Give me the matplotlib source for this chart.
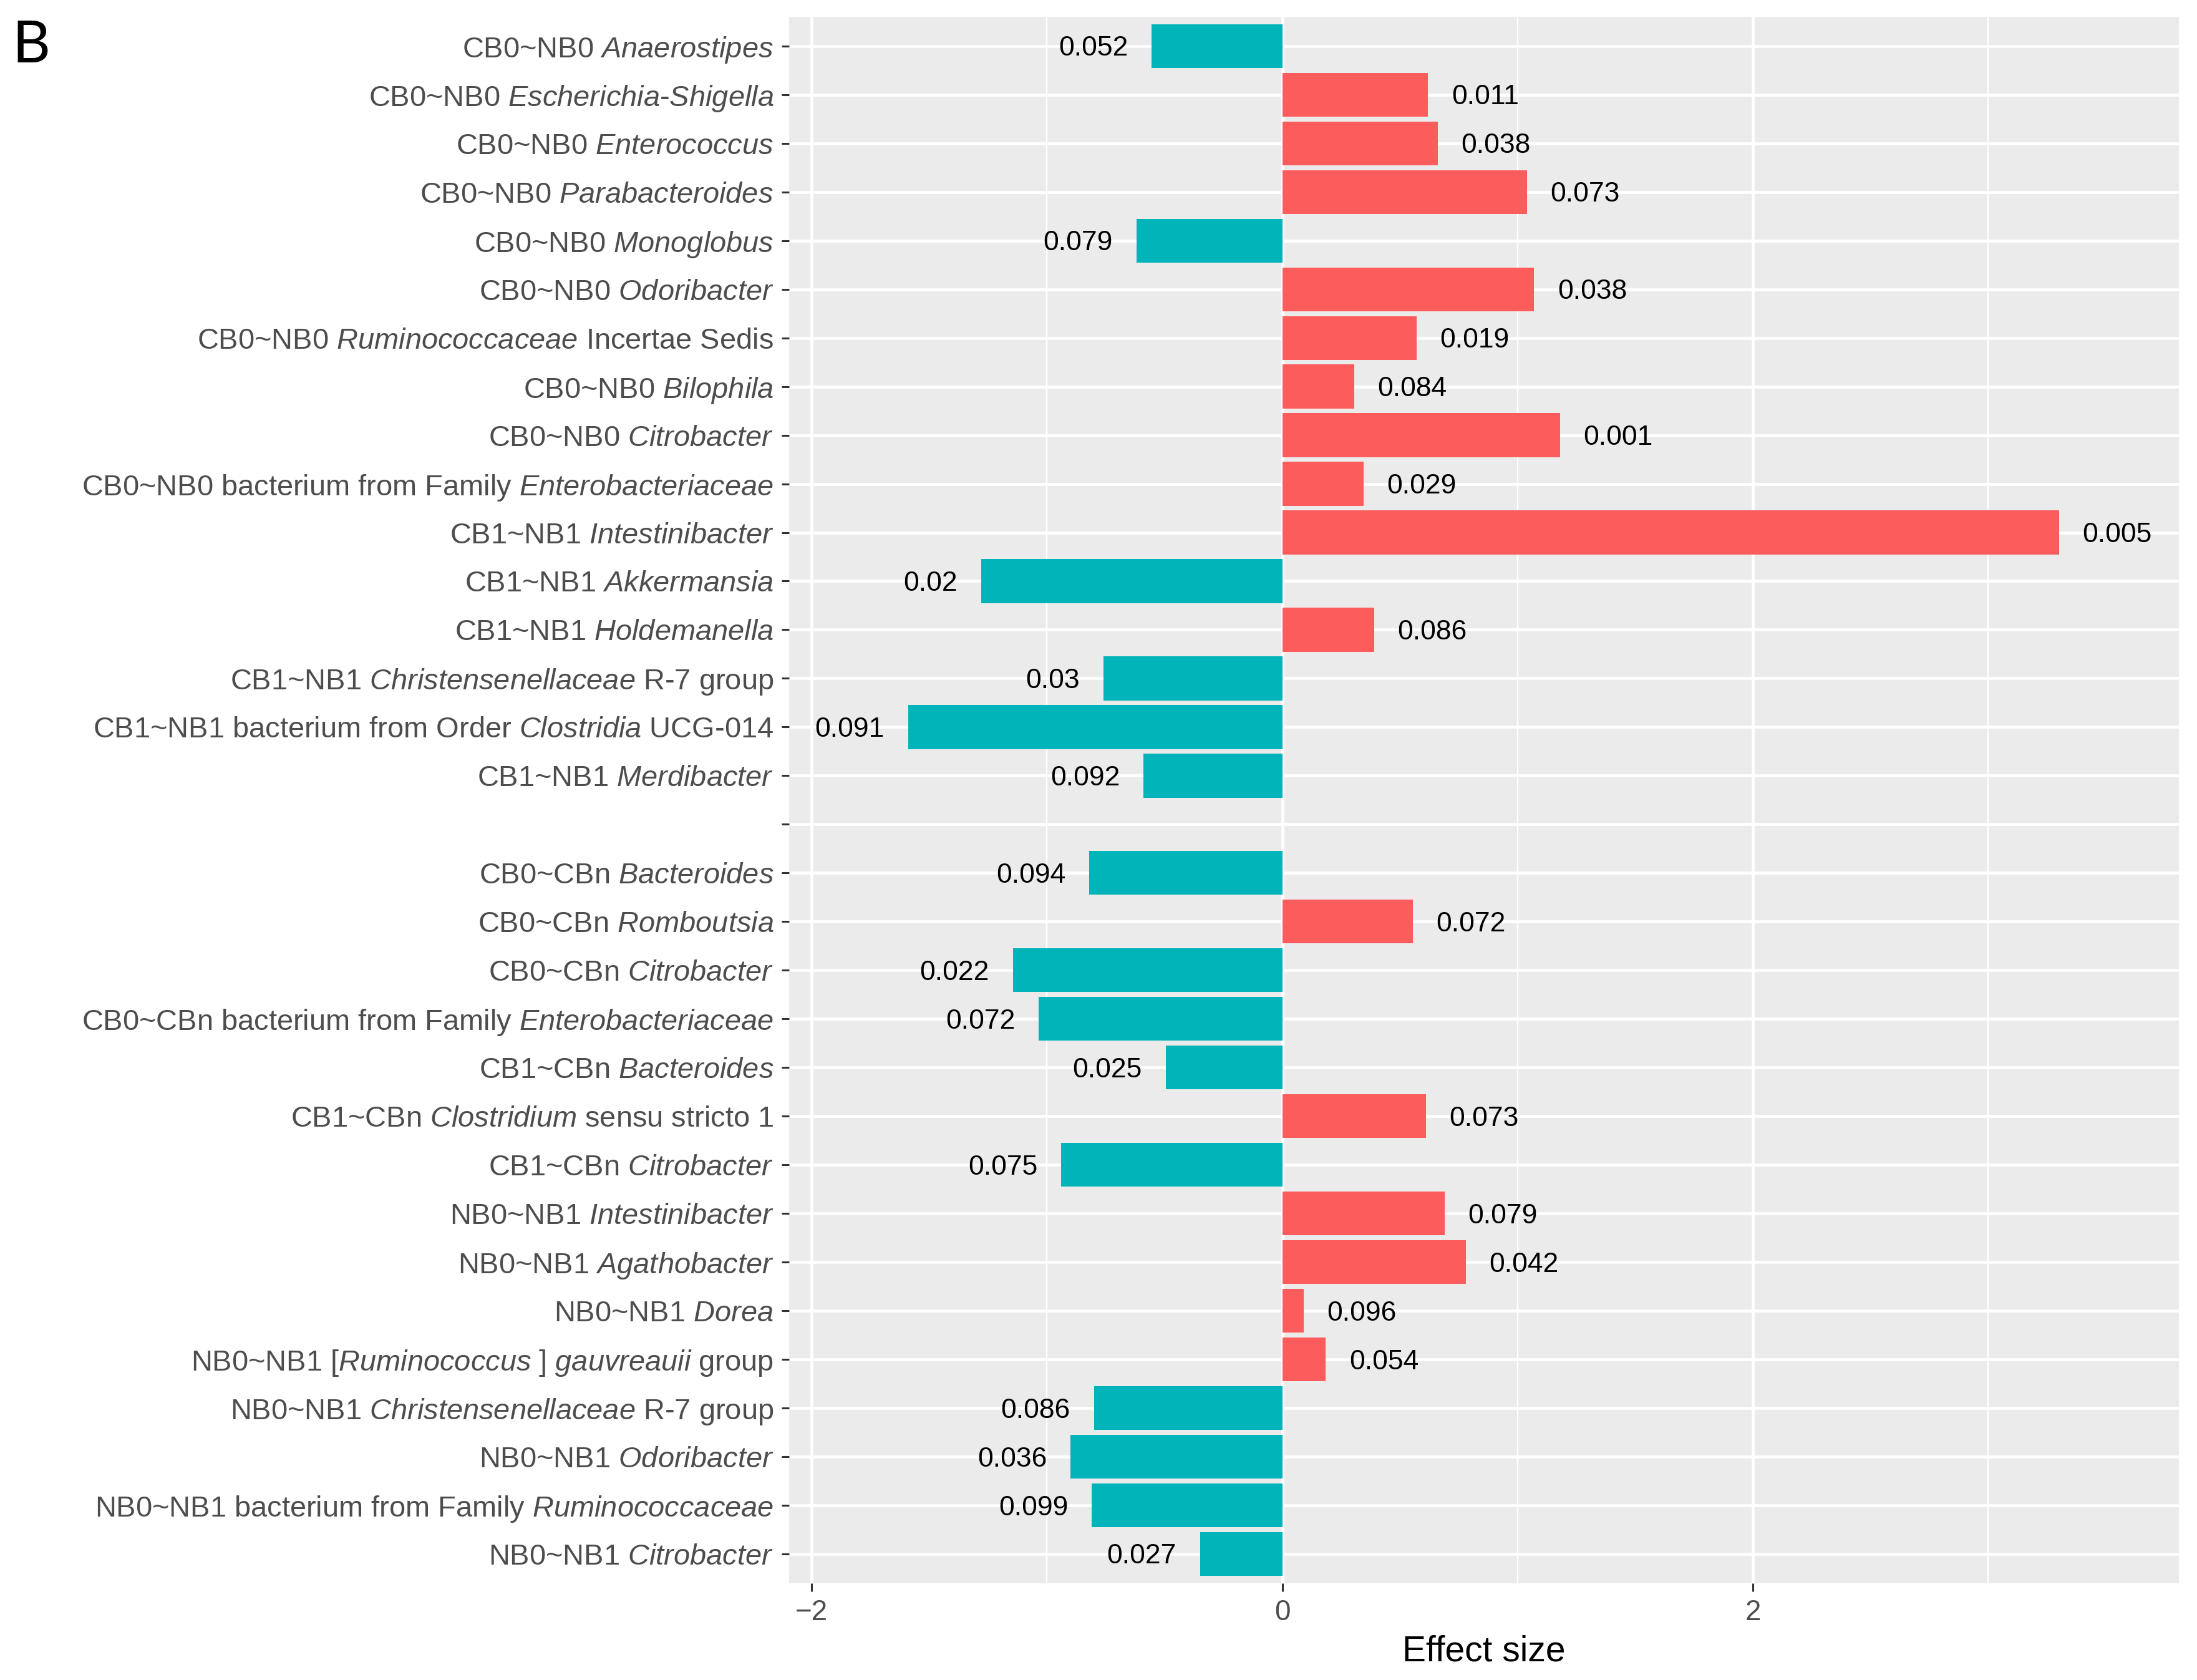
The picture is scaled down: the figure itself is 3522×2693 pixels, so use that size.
import numpy as np
import matplotlib
matplotlib.use("Agg")
import matplotlib.pyplot as plt
from matplotlib.ticker import MultipleLocator

plt.rcParams['font.family'] = ['Liberation Sans', 'DejaVu Sans']
plt.rcParams['mathtext.fontset'] = 'custom'
plt.rcParams['mathtext.rm'] = 'Liberation Sans'
plt.rcParams['mathtext.it'] = 'Liberation Sans:italic'

# rows from top to bottom, "" = empty spacer row
labels = [
    r"CB0~NB0 $\mathit{Anaerostipes}$",
    r"CB0~NB0 $\mathit{Escherichia}$-$\mathit{Shigella}$",
    r"CB0~NB0 $\mathit{Enterococcus}$",
    r"CB0~NB0 $\mathit{Parabacteroides}$",
    r"CB0~NB0 $\mathit{Monoglobus}$",
    r"CB0~NB0 $\mathit{Odoribacter}$",
    r"CB0~NB0 $\mathit{Ruminococcaceae}$ Incertae Sedis",
    r"CB0~NB0 $\mathit{Bilophila}$",
    r"CB0~NB0 $\mathit{Citrobacter}$",
    r"CB0~NB0 bacterium from Family $\mathit{Enterobacteriaceae}$",
    r"CB1~NB1 $\mathit{Intestinibacter}$",
    r"CB1~NB1 $\mathit{Akkermansia}$",
    r"CB1~NB1 $\mathit{Holdemanella}$",
    r"CB1~NB1 $\mathit{Christensenellaceae}$ R-7 group",
    r"CB1~NB1 bacterium from Order $\mathit{Clostridia}$ UCG-014",
    r"CB1~NB1 $\mathit{Merdibacter}$",
    "",
    r"CB0~CBn $\mathit{Bacteroides}$",
    r"CB0~CBn $\mathit{Romboutsia}$",
    r"CB0~CBn $\mathit{Citrobacter}$",
    r"CB0~CBn bacterium from Family $\mathit{Enterobacteriaceae}$",
    r"CB1~CBn $\mathit{Bacteroides}$",
    r"CB1~CBn $\mathit{Clostridium}$ sensu stricto 1",
    r"CB1~CBn $\mathit{Citrobacter}$",
    r"NB0~NB1 $\mathit{Intestinibacter}$",
    r"NB0~NB1 $\mathit{Agathobacter}$",
    r"NB0~NB1 $\mathit{Dorea}$",
    r"NB0~NB1 [$\mathit{Ruminococcus}$ ] $\mathit{gauvreauii}$ group",
    r"NB0~NB1 $\mathit{Christensenellaceae}$ R-7 group",
    r"NB0~NB1 $\mathit{Odoribacter}$",
    r"NB0~NB1 bacterium from Family $\mathit{Ruminococcaceae}$",
    r"NB0~NB1 $\mathit{Citrobacter}$",
]

effect = [
    -0.555, 0.62, 0.66, 1.04, -0.62, 1.07, 0.57, 0.305, 1.18, 0.345,
    3.30, -1.28, 0.39, -0.76, -1.59, -0.59,
    np.nan,
    -0.82, 0.555, -1.145, -1.035, -0.495, 0.61, -0.94,
    0.69, 0.78, 0.09, 0.185, -0.80, -0.90, -0.81, -0.35,
]

pvals = [
    "0.052", "0.011", "0.038", "0.073", "0.079", "0.038", "0.019", "0.084", "0.001", "0.029",
    "0.005", "0.02", "0.086", "0.03", "0.091", "0.092",
    "",
    "0.094", "0.072", "0.022", "0.072", "0.025", "0.073", "0.075",
    "0.079", "0.042", "0.096", "0.054", "0.086", "0.036", "0.099", "0.027",
]

red = "#FC5C5C"
teal = "#00B4B9"

fig = plt.figure(figsize=(35.22, 26.93), dpi=100)
ax = fig.add_axes([0.3592, 0.0576, 0.6326, 0.9324])
ax.set_facecolor("#EBEBEB")

y = np.arange(len(labels))
eff = np.array(effect, dtype=float)
ok = ~np.isnan(eff)
cols = [red if v > 0 else teal for v in eff[ok]]
ax.barh(y[ok], eff[ok], height=0.9, color=cols, zorder=3)

for yi, v, p in zip(y, eff, pvals):
    if np.isnan(v):
        continue
    if v > 0:
        ax.text(v + 0.1, yi + 0.05, p, ha="left", va="center", fontsize=32, color="black", zorder=4)
    else:
        ax.text(v - 0.1, yi + 0.05, p, ha="right", va="center", fontsize=32, color="black", zorder=4)

ax.set_xlim(-2.095, 3.81)
ax.set_ylim(len(labels) - 0.4, -0.6)
ax.set_yticks(y)
ax.set_yticklabels(labels)
ax.xaxis.set_major_locator(MultipleLocator(2))
ax.xaxis.set_minor_locator(MultipleLocator(1))
ax.set_xticks([-2, 0, 2])
ax.set_xticklabels(["\u22122", "0", "2"])

ax.grid(which="major", axis="both", color="white", linewidth=3.4, zorder=1)
ax.grid(which="minor", axis="x", color="white", linewidth=1.7, zorder=1)
ax.set_axisbelow(True)
for s in ax.spines.values():
    s.set_visible(False)

ax.tick_params(axis="y", which="major", length=9, width=2.2, color="#333333",
               labelsize=33.8, labelcolor="#4D4D4D", pad=9)
ax.tick_params(axis="x", which="major", length=9, width=2.2, color="#333333",
               labelsize=33, labelcolor="#4D4D4D", pad=9)
ax.tick_params(axis="x", which="minor", length=0)
ax.set_xlabel("Effect size", fontsize=41, color="black", labelpad=10)

fig.text(0.0055, 0.9725, "B", fontsize=68, family=["Lato", "DejaVu Sans"], ha="left", va="center")

fig.savefig("out.png", dpi=100)
